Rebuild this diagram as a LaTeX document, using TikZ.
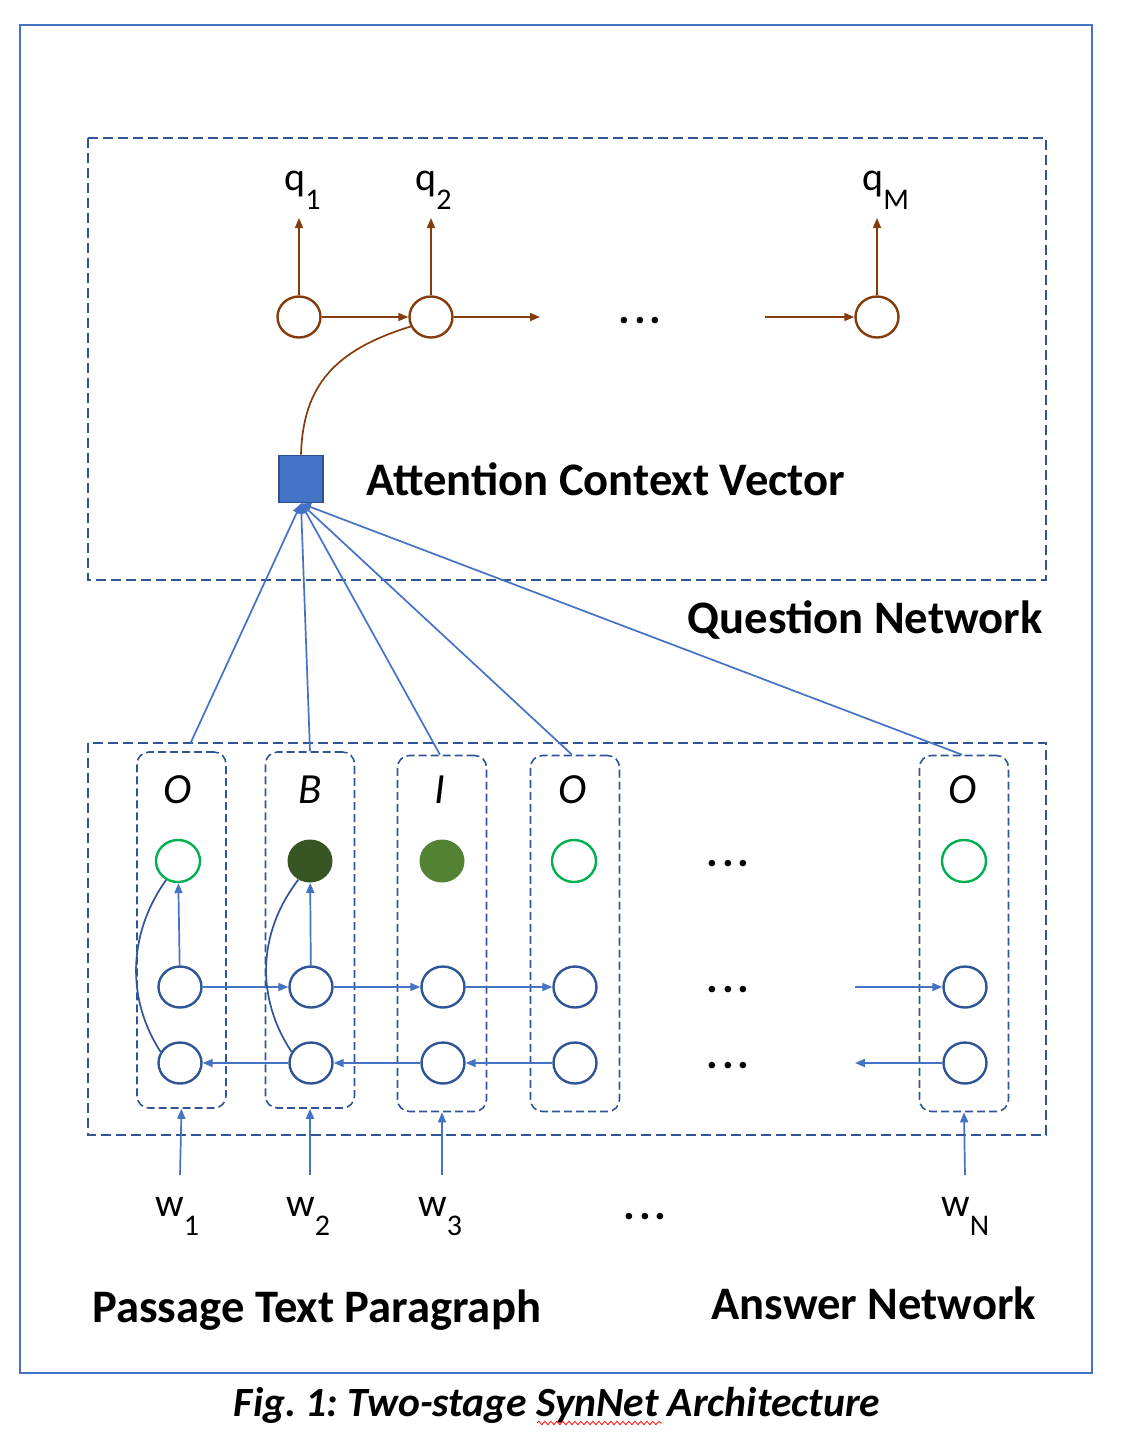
\documentclass[tikz,border=0pt]{standalone}
\usepackage{fontspec}
\setmainfont{Carlito}
\usetikzlibrary{arrows.meta,shapes.geometric,decorations.pathmorphing}
\definecolor{frameblue}{HTML}{4472C4}
\definecolor{dblue}{HTML}{2F5597}
\definecolor{cblue}{HTML}{2F5597}
\definecolor{lblue}{HTML}{4472C4}
\definecolor{qbrown}{HTML}{843C0C}
\definecolor{gline}{HTML}{00B050}
\definecolor{gdark}{HTML}{375623}
\definecolor{gmid}{HTML}{548235}
\definecolor{attborder}{HTML}{2F528F}
\newcommand{\subtxt}[1]{\raisebox{-9.5pt}{\fontsize{15}{15}\selectfont #1}}
\newcommand{\threedots}{{\fontsize{22}{22}\selectfont\bfseries .\hspace{1.9pt}.\hspace{1.9pt}.}}
\begin{document}
\frenchspacing
\begin{tikzpicture}[x=0.5pt,y=-0.5pt,
  bigbox/.style={draw=dblue, line width=1.3pt, dash pattern=on 5pt off 2.5pt},
  colbox/.style={draw=dblue, line width=0.8pt, dash pattern=on 4pt off 2pt, rounded corners=6pt, minimum width=44.5pt, minimum height=178pt, inner sep=0pt},
  qcirc/.style={ellipse, draw=qbrown, line width=1.2pt, minimum width=21.5pt, minimum height=20.5pt, inner sep=0pt},
  hcirc/.style={ellipse, draw=cblue, line width=1.2pt, minimum width=21.5pt, minimum height=20.5pt, inner sep=0pt},
  gcirc/.style={ellipse, draw=gline, line width=1.2pt, minimum width=22pt, minimum height=21pt, inner sep=0pt},
  gfill/.style={ellipse, minimum width=22.5pt, minimum height=21.5pt, inner sep=0pt},
  qarr/.style={draw=qbrown, line width=0.85pt, -{Triangle[length=5pt,width=4pt]}},
  barr/.style={draw=lblue, line width=0.85pt, -{Triangle[length=5pt,width=4pt]}},
  bline/.style={draw=cblue, line width=0.85pt},
  bigtxt/.style={font=\fontsize{23.3}{28}\selectfont\bfseries, inner sep=0pt},
  tag/.style={font=\fontsize{21.5}{24}\selectfont\itshape, inner sep=0pt},
  lab/.style={font=\fontsize{20}{24}\selectfont, inner sep=0pt, anchor=base west},
  dots/.style={inner sep=0pt}
]
\useasboundingbox (0,0) rectangle (1126,1448);
% outer frame
\draw[frameblue, line width=1.3pt] (20,25) rectangle (1092,1373);
% network boxes
\draw[bigbox] (88,138) rectangle (1046,580);
\draw[bigbox] (88,743) rectangle (1046,1135);

% ---------------- question network
\node[qcirc] (q1) at (299,317) {};
\node[qcirc] (q2) at (431,317) {};
\node[qcirc] (qm) at (877,317) {};
\coordinate (qo) at (540,317);
\coordinate (qi) at (765,317);
\node[dots] (qdots) at (640,321) {\threedots};
\draw[qarr] (q1) -- (q2);
\draw[qarr] (q2) -- (qo);
\draw[qarr] (qi) -- (qm);
\node[lab] (lq1) at (284,190) {q\subtxt{1}};
\node[lab] (lq2) at (415,190) {q\subtxt{2}};
\node[lab] (lqm) at (862,190) {q\subtxt{M}};
\coordinate (t1) at (299,218);
\coordinate (t2) at (431,218);
\coordinate (tm) at (877,218);
\draw[qarr] (q1) -- (t1);
\draw[qarr] (q2) -- (t2);
\draw[qarr] (qm) -- (tm);

\node[draw=attborder, fill=frameblue, line width=0.9pt, minimum width=22pt, minimum height=23.5pt, inner sep=0pt] (att) at (301,479) {};
\node[bigtxt, anchor=west] (attlab) at (366,479) {Attention Context Vector};
\draw[draw=qbrown, line width=0.85pt] (att.north) .. controls (303,385) and (335,350) .. (q2.205);
\node[bigtxt, anchor=east] (qnet) at (1043,620) {Question Network};

% ---------------- answer network columns
\node[colbox] (c1) at (181.5,930) {};
\node[colbox] (c2) at (310,930) {};
\node[colbox] (c3) at (442,933.5) {};
\node[colbox] (c4) at (575,933.5) {};
\node[colbox] (c5) at (964,933.5) {};

\node[tag] (o1) at (178,790) {O};
\node[tag] (o2) at (310,790) {B};
\node[tag] (o3) at (440,790) {I};
\node[tag] (o4) at (573,790) {O};
\node[tag] (o5) at (963,790) {O};

\node[gcirc] (g1) at (178,861) {};
\node[gfill, fill=gdark] (g2) at (310,861) {};
\node[gfill, fill=gmid] (g3) at (442,861) {};
\node[gcirc] (g4) at (574,861) {};
\node[gcirc] (g5) at (964,861) {};

\node[hcirc] (f1) at (180,987) {};
\node[hcirc] (f2) at (311,987) {};
\node[hcirc] (f3) at (443,987) {};
\node[hcirc] (f4) at (575,987) {};
\node[hcirc] (f5) at (965,987) {};
\node[hcirc] (b1) at (180,1063) {};
\node[hcirc] (b2) at (311,1063) {};
\node[hcirc] (b3) at (443,1063) {};
\node[hcirc] (b4) at (575,1063) {};
\node[hcirc] (b5) at (965,1063) {};

\draw[barr] (f1) -- (f2);
\draw[barr] (f2) -- (f3);
\draw[barr] (f3) -- (f4);
\coordinate (fin) at (855,987);
\draw[barr] (fin) -- (f5);
\draw[barr] (b2) -- (b1);
\draw[barr] (b3) -- (b2);
\draw[barr] (b4) -- (b3);
\coordinate (bout) at (855,1063);
\draw[barr] (b5) -- (bout);

\draw[barr] (f1) -- (g1);
\draw[barr] (f2) -- (g2);
\draw[bline] (b1.150) .. controls (127,1000) and (127,935) .. (g1.238);
\draw[bline] (b2.150) .. controls (257,1000) and (256,935) .. (g2.238);

\node[dots] (d1) at (728,864) {\threedots};
\node[dots] (d2) at (728,990) {\threedots};
\node[dots] (d3) at (728,1066) {\threedots};

% attention lines
\draw[barr] ([xshift=4.5pt,yshift=4pt]c1.north) -- (att.south);
\draw[barr] (c2.north) -- (att.south);
\draw[barr] ([xshift=-1pt]c3.north) -- (att.south);
\draw[barr] ([xshift=-1.5pt]c4.north) -- (att.south);
\draw[barr] ([xshift=-1pt]c5.north) -- (att.south);

% inputs
\node[lab] (w1) at (155,1216) {w\subtxt{1}};
\node[lab] (w2) at (286,1216) {w\subtxt{2}};
\node[lab] (w3) at (418,1216) {w\subtxt{3}};
\node[lab] (wn) at (941,1216) {w\subtxt{N}};
\node[dots] (d4) at (645,1217) {\threedots};
\coordinate (s1) at (180,1175);
\coordinate (s2) at (310,1175);
\coordinate (s3) at (442,1175);
\coordinate (s5) at (965,1175);
\draw[barr] (s1) -- (c1.south);
\draw[barr] (s2) -- (c2.south);
\draw[barr] (s3) -- (c3.south);
\draw[barr] (s5) -- (c5.south);

\node[bigtxt, anchor=west] (ptp) at (92,1310) {Passage Text Paragraph};
\node[bigtxt, anchor=west] (anet) at (711,1303) {Answer Network};

% caption
\node[font=\fontsize{20.8}{24}\selectfont\bfseries\itshape, inner sep=0pt] (cap) at (557,1405) {Fig. 1: Two-stage SynNet Architecture};
\draw[red, line width=0.4pt, decorate, decoration={snake, amplitude=0.8pt, segment length=3pt}] (537,1423) -- (662,1423);
\end{tikzpicture}
\end{document}
